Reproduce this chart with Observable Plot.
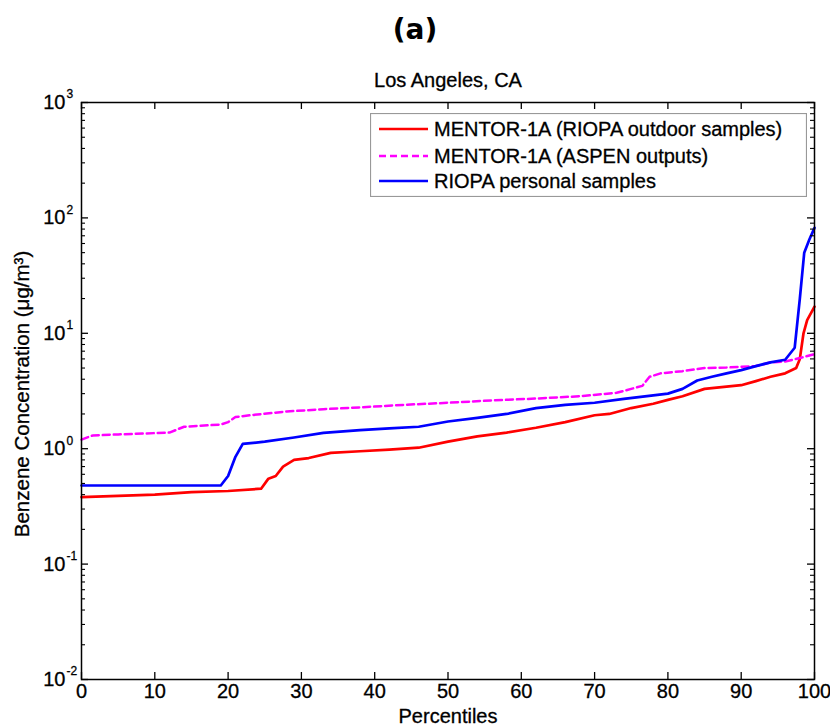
<!DOCTYPE html>
<html><head><meta charset="utf-8">
<script src="https://cdn.jsdelivr.net/npm/d3@7"></script>
<script src="https://cdn.jsdelivr.net/npm/@observablehq/plot@0.6"></script>
<style>
body{margin:0;background:#fff;}
#wrap{position:relative;width:830px;height:727px;overflow:hidden;}
#title{position:absolute;left:0;top:13px;width:830px;text-align:center;font-family:"DejaVu Sans",sans-serif;font-weight:bold;font-size:28px;line-height:34px;color:#000;}
#chart{position:absolute;left:0;top:60px;}
#legend{position:absolute;left:370px;top:113px;}
#chart text, #legend text{stroke:#000;stroke-width:0.3px;}
</style></head>
<body><div id="wrap"><div id="title">(a)</div><div id="chart"></div><div id="legend"></div></div>
<script>
// Series: MENTOR-1A (RIOPA outdoor samples)
const redPct = [0, 5, 10, 15, 20, 24.5, 25.5, 26.5, 27.5, 29, 31, 34, 38, 42, 46, 50, 54, 58, 62, 66, 70, 72, 75, 78, 80, 82, 85, 88, 90, 92, 94, 96, 97.5, 98, 98.5, 99, 100];
const redVal = [0.38, 0.39, 0.40, 0.42, 0.43, 0.45, 0.55, 0.58, 0.70, 0.80, 0.83, 0.92, 0.95, 0.98, 1.02, 1.15, 1.28, 1.38, 1.52, 1.70, 1.95, 2.0, 2.25, 2.45, 2.65, 2.85, 3.3, 3.45, 3.55, 3.85, 4.2, 4.5, 5.0, 6.0, 10, 13, 17];
// Series: MENTOR-1A (ASPEN outputs)
const magPct = [0, 1.5, 5, 12, 14, 19, 20, 21, 23, 28, 33, 38, 44, 50, 56, 62, 68, 73, 75, 76.5, 77.5, 79, 82, 85, 88, 92, 94, 96, 98, 100];
const magVal = [1.2, 1.3, 1.33, 1.38, 1.55, 1.62, 1.7, 1.88, 1.95, 2.1, 2.2, 2.28, 2.4, 2.5, 2.62, 2.72, 2.85, 3.05, 3.3, 3.5, 4.2, 4.5, 4.7, 5.0, 5.05, 5.2, 5.6, 5.7, 6.1, 6.6];
// Series: RIOPA personal samples
const bluePct = [0, 19, 20, 21, 22, 25, 29, 33, 38, 42, 46, 50, 54, 58, 62, 66, 70, 74, 78, 80, 82, 84, 86, 88, 90, 92, 94, 96, 97.3, 98, 98.6, 99.3, 100];
const blueVal = [0.48, 0.48, 0.58, 0.85, 1.10, 1.15, 1.25, 1.37, 1.45, 1.5, 1.55, 1.72, 1.85, 2.0, 2.25, 2.4, 2.5, 2.7, 2.9, 3.0, 3.3, 3.9, 4.2, 4.5, 4.8, 5.2, 5.6, 5.9, 7.5, 20, 50, 65, 82];

const seriesNames = ["MENTOR-1A (RIOPA outdoor samples)", "MENTOR-1A (ASPEN outputs)", "RIOPA personal samples"];
const seriesColors = ["#ff0000", "#ff00ff", "#0000ff"];
const seriesDash = [null, "7,4", null];

const xTicks = [0, 10, 20, 30, 40, 50, 60, 70, 80, 90, 100];
const yDecades = [0.01, 0.1, 1, 10, 100, 1000];
const yExponents = ["-2", "-1", "0", "1", "2", "3"];
const minorMult = [2, 3, 4, 5, 6, 7, 8, 9];

const title = "Los Angeles, CA";
const xLabel = "Percentiles";
const yLabel = "Benzene Concentration (\u03bcg/m\u00b3)";

const toRows = (p, v) => p.map((x, i) => ({pct: x, val: v[i]}));
const red = toRows(redPct, redVal), mag = toRows(magPct, magVal), blue = toRows(bluePct, blueVal);
const yMinor = yDecades.slice(0, -1).flatMap(d => minorMult.map(m => d * m));

const W = 830, H = 667, mL = 81, mR = 16, mT = 42, mB = 48;
const fw = W - mL - mR, fh = H - mT - mB;
const font = "Liberation Sans, Arial, sans-serif";

const chart = Plot.plot({
  width: W, height: H,
  marginLeft: mL, marginRight: mR, marginTop: mT, marginBottom: mB,
  style: {fontFamily: font, fontSize: "20px", color: "#000", background: "transparent", overflow: "visible"},
  x: {domain: [0, 100]},
  y: {type: "log", domain: [0.01, 1000]},
  marks: [
    Plot.line(red, {x: "pct", y: "val", stroke: seriesColors[0], strokeWidth: 2.7}),
    Plot.line(mag, {x: "pct", y: "val", stroke: seriesColors[1], strokeWidth: 2.5, strokeDasharray: seriesDash[1]}),
    Plot.line(blue, {x: "pct", y: "val", stroke: seriesColors[2], strokeWidth: 2.7}),
    Plot.frame({stroke: "#000", strokeWidth: 1.5}),
    Plot.tickX(xTicks, {x: d => d, insetTop: fh - 7, stroke: "#000", strokeWidth: 1.3}),
    Plot.tickX(xTicks, {x: d => d, insetBottom: fh - 7, stroke: "#000", strokeWidth: 1.3}),
    Plot.tickY(yDecades, {y: d => d, insetRight: fw - 7, stroke: "#000", strokeWidth: 1.3}),
    Plot.tickY(yDecades, {y: d => d, insetLeft: fw - 7, stroke: "#000", strokeWidth: 1.3}),
    Plot.tickY(yMinor, {y: d => d, insetRight: fw - 4, stroke: "#000", strokeWidth: 1.1}),
    Plot.tickY(yMinor, {y: d => d, insetLeft: fw - 4, stroke: "#000", strokeWidth: 1.1}),
    Plot.axisX({ticks: xTicks, tickSize: 0, tickPadding: 4, label: null, fontSize: 20, tickFormat: d => String(d)}),
    Plot.axisY({ticks: [], label: null, tickSize: 0}),
    Plot.text(yDecades, {y: d => d, frameAnchor: "left", text: () => "10", textAnchor: "end", dx: -16, fontSize: 20}),
    Plot.text(yDecades, {y: d => d, frameAnchor: "left", text: (d, i) => yExponents[i], textAnchor: "start", dx: -15, dy: -8, fontSize: 12}),
    Plot.text([yLabel], {frameAnchor: "left", text: d => d, textAnchor: "middle", lineAnchor: "middle", rotate: -90, dx: -59, dy: 3, fontSize: 20.5}),
    Plot.text([xLabel], {frameAnchor: "bottom", text: d => d, lineAnchor: "middle", dy: 37, fontSize: 20}),
    Plot.text([title], {frameAnchor: "top", text: d => d, lineAnchor: "middle", dy: -22, fontSize: 20})
  ]
});
document.getElementById("chart").appendChild(chart);

// Legend
const lw = 437, lh = 84, rowY = [16, 43, 68];
const leg = d3.select("#legend").append("svg").attr("width", lw).attr("height", lh)
  .style("font-family", font).style("font-size", "20px");
leg.append("rect").attr("x", 0.5).attr("y", 0.5).attr("width", lw - 1).attr("height", lh - 1)
  .attr("fill", "#fff").attr("stroke", "#999").attr("stroke-width", 1.2);
seriesNames.forEach((name, i) => {
  leg.append("line").attr("x1", 9).attr("x2", 58).attr("y1", rowY[i]).attr("y2", rowY[i])
    .attr("stroke", seriesColors[i]).attr("stroke-width", i === 1 ? 2.5 : 2.7)
    .attr("stroke-dasharray", seriesDash[i]);
  leg.append("text").attr("x", 64).attr("y", rowY[i]).attr("dy", "0.35em").attr("fill", "#000").text(name);
});
</script>
</body></html>
